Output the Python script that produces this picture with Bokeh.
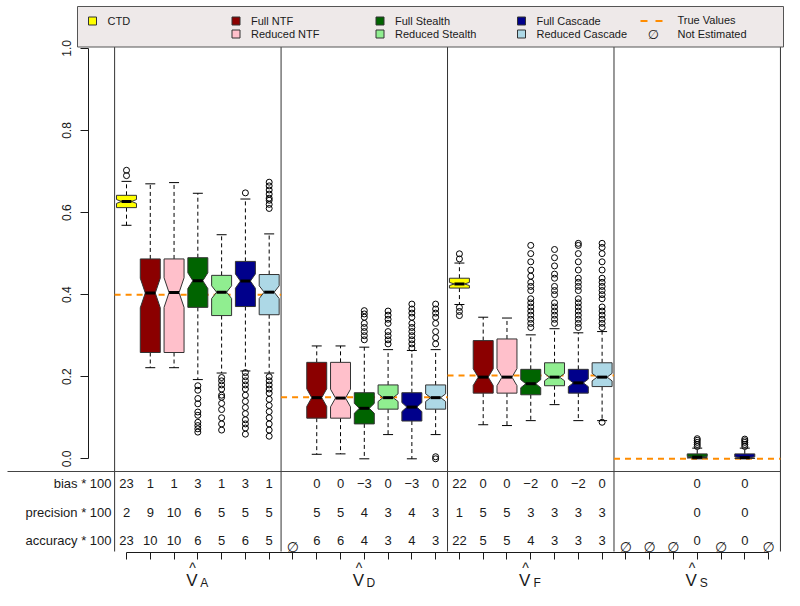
import math
from bokeh.plotting import figure
from bokeh.models import Range1d, FixedTicker, PrintfTickFormatter
from bokeh.core.properties import value
from bokeh.embed import file_html
from bokeh.resources import INLINE

# ---------------- data ----------------
methods = ["CTD", "Full NTF", "Reduced NTF", "Full Stealth", "Reduced Stealth",
           "Full Cascade", "Reduced Cascade"]
method_colors = ["#FFFF00", "#8B0000", "#FFC0CB", "#006400", "#90EE90", "#00008B", "#ADD8E6"]
groups = ["A", "D", "F", "S"]
true_values = [0.40, 0.15, 0.203, 0.0]
y_ticks = [0.0, 0.2, 0.4, 0.6, 0.8, 1.0]
n_sim = 100  # replications (used for the notch width, as boxplot does)

box_pos = [0, 1, 2, 3, 4, 5, 6, 8, 9, 10, 11, 12, 13, 14, 15, 16, 17, 18, 19, 20, 24, 26]
box_lo  = [0.569, 0.222, 0.222, 0.193, 0.209, 0.214, 0.209, 0.011, 0.012, 0.000, 0.059,
           0.000, 0.059, 0.376, 0.083, 0.081, 0.093, 0.132, 0.093, 0.093, 0.000, 0.000]
box_q1  = [0.612, 0.259, 0.259, 0.369, 0.349, 0.371, 0.351, 0.099, 0.099, 0.085, 0.121,
           0.092, 0.121, 0.416, 0.160, 0.160, 0.156, 0.178, 0.160, 0.176, 0.002, 0.001]
box_med = [0.627, 0.404, 0.405, 0.434, 0.406, 0.433, 0.406, 0.149, 0.148, 0.123, 0.149,
           0.126, 0.149, 0.426, 0.199, 0.199, 0.183, 0.199, 0.185, 0.199, 0.004, 0.003]
box_q3  = [0.642, 0.487, 0.487, 0.490, 0.447, 0.481, 0.449, 0.235, 0.235, 0.161, 0.180,
           0.161, 0.180, 0.440, 0.288, 0.292, 0.218, 0.234, 0.218, 0.234, 0.012, 0.012]
box_hi  = [0.676, 0.670, 0.673, 0.647, 0.546, 0.633, 0.548, 0.275, 0.275, 0.272, 0.266,
           0.264, 0.266, 0.477, 0.345, 0.343, 0.302, 0.317, 0.307, 0.310, 0.026, 0.026]

outliers = {
    0: [0.690, 0.703],
    3: [0.178, 0.167, 0.147, 0.134, 0.114, 0.106, 0.089, 0.081, 0.073, 0.065],
    4: [0.198, 0.190, 0.180, 0.170, 0.155, 0.150, 0.135, 0.120, 0.100, 0.085, 0.070],
    5: [0.648, 0.210, 0.200, 0.190, 0.180, 0.170, 0.155, 0.140, 0.125, 0.110, 0.095,
        0.085, 0.075, 0.060],
    6: [0.674, 0.665, 0.655, 0.645, 0.635, 0.630, 0.620, 0.610, 0.200, 0.190, 0.180,
        0.170, 0.160, 0.145, 0.130, 0.115, 0.100, 0.085, 0.070, 0.055],
    10: [0.361, 0.353, 0.345, 0.330, 0.320, 0.310, 0.300, 0.290],
    11: [0.360, 0.350, 0.340, 0.330, 0.310, 0.300, 0.290, 0.280],
    12: [0.377, 0.365, 0.355, 0.345, 0.330, 0.320, 0.310, 0.300, 0.290, 0.280, 0.270],
    13: [0.377, 0.365, 0.355, 0.345, 0.330, 0.310, 0.295, 0.280, 0.005, 0.000],
    14: [0.4995, 0.487, 0.369, 0.359, 0.349],
    17: [0.520, 0.500, 0.480, 0.460, 0.445, 0.430, 0.420, 0.410, 0.390, 0.380, 0.370,
         0.360, 0.350, 0.340, 0.330, 0.320],
    18: [0.510, 0.490, 0.470, 0.450, 0.440, 0.420, 0.410, 0.400, 0.380, 0.370, 0.360,
         0.350, 0.340, 0.330],
    19: [0.525, 0.520, 0.500, 0.480, 0.460, 0.440, 0.430, 0.420, 0.410, 0.390, 0.380,
         0.370, 0.360, 0.350, 0.340, 0.330, 0.320],
    20: [0.525, 0.515, 0.500, 0.480, 0.460, 0.440, 0.430, 0.420, 0.410, 0.400, 0.390,
         0.370, 0.360, 0.350, 0.340, 0.330, 0.320, 0.089],
    24: [0.049, 0.045, 0.040, 0.035, 0.030],
    26: [0.048, 0.044, 0.040, 0.035, 0.030],
}

row_labels = ["bias * 100", "precision * 100", "accuracy * 100"]
NE = "\u2205"
bias_row = ["23", "1", "1", "3", "1", "3", "1",
            "", "0", "0", "\u22123", "0", "\u22123", "0",
            "22", "0", "0", "\u22122", "0", "\u22122", "0",
            "", "", "", "0", "", "0", ""]
prec_row = ["2", "9", "10", "6", "5", "5", "5",
            "", "5", "5", "4", "3", "4", "3",
            "1", "5", "5", "3", "3", "3", "3",
            "", "", "", "0", "", "0", ""]
acc_row = ["23", "10", "10", "6", "5", "6", "5",
           NE, "6", "6", "4", "3", "4", "3",
           "22", "5", "5", "4", "3", "3", "3",
           NE, NE, NE, "0", NE, "0", NE]
table_rows = [bias_row, prec_row, acc_row]

# ---------------- layout helpers (picture pixel -> data) ----------------
PX0, PXS = 126.0, 23.78
PY0, PYS = 458.3, 410.4
W, H = 784, 590


def X(px):
    return (px - PX0) / PXS


def Y(py):
    return (PY0 - py) / PYS


FONT = value("Liberation Sans")
INK = "#1a1a1a"

p = figure(width=W, height=H, output_backend="svg", toolbar_location=None,
           title=None, x_range=Range1d(X(0), X(W)), y_range=Range1d(Y(H), Y(0)),
           min_border=0, min_border_left=0, min_border_right=0,
           min_border_top=0, min_border_bottom=0)
p.outline_line_color = None
p.xgrid.visible = False
p.ygrid.visible = False
p.background_fill_color = "white"
p.border_fill_color = "white"

# y axis
yax = p.yaxis[0]
yax.ticker = FixedTicker(ticks=y_ticks)
yax.formatter = PrintfTickFormatter(format="%.1f")
yax.bounds = (0, 1)
yax.fixed_location = X(88)
yax.major_tick_out = 8
yax.major_tick_in = 0
yax.minor_tick_out = 0
yax.minor_tick_in = 0
yax.major_label_orientation = "vertical"
yax.major_label_text_font = "Liberation Sans"
yax.major_label_text_font_size = "12px"
yax.major_label_text_color = INK
yax.major_label_standoff = 9
yax.axis_line_color = INK
yax.major_tick_line_color = INK

# x axis (ticks only)
xax = p.xaxis[0]
xax.ticker = FixedTicker(ticks=list(range(28)))
xax.bounds = (0, 27)
xax.fixed_location = Y(552)
xax.major_tick_out = 7
xax.major_tick_in = 0
xax.minor_tick_out = 0
xax.minor_tick_in = 0
xax.major_label_overrides = {i: "" for i in range(28)}
xax.major_label_text_font_size = "1px"
xax.axis_line_color = INK
xax.major_tick_line_color = INK

# frame lines
seps = [7 * g - 0.5 for g in range(5)]
p.segment(x0=seps, y0=[Y(551)] * 5, x1=seps, y1=[Y(20)] * 5, line_color="#333333", line_width=1)
p.segment(x0=[X(7)], y0=[Y(471)], x1=[27.5], y1=[Y(471)], line_color="#444444", line_width=1.2)

# true value lines
p.segment(x0=[7 * g - 0.5 for g in range(4)], y0=true_values,
          x1=[7 * g + 6.5 for g in range(4)], y1=true_values,
          line_color="#FF8C00", line_width=2, line_dash="6 5")

# boxes
hw = 0.42
xs, ys, fills = [], [], []
wx, wy0, wy1 = [], [], []
stx0, stx1, sty = [], [], []
mx0, mx1, my = [], [], []
for k, pos in enumerate(box_pos):
    q1, med, q3, lo, hi = box_q1[k], box_med[k], box_q3[k], box_lo[k], box_hi[k]
    nh = 1.58 * (q3 - q1) / math.sqrt(n_sim)
    xs.append([pos - hw, pos - hw, pos - hw / 2, pos - hw, pos - hw,
               pos + hw, pos + hw, pos + hw / 2, pos + hw, pos + hw])
    ys.append([q1, med - nh, med, med + nh, q3, q3, med + nh, med, med - nh, q1])
    fills.append(method_colors[pos % 7])
    wx += [pos, pos]
    wy0 += [q3, q1]
    wy1 += [hi, lo]
    stx0 += [pos - hw / 2, pos - hw / 2]
    stx1 += [pos + hw / 2, pos + hw / 2]
    sty += [hi, lo]
    mx0.append(pos - hw / 2)
    mx1.append(pos + hw / 2)
    my.append(med)

p.segment(x0=wx, y0=wy0, x1=wx, y1=wy1, line_color="black", line_width=1, line_dash="4 3")
p.segment(x0=stx0, y0=sty, x1=stx1, y1=sty, line_color="black", line_width=1)
p.patches(xs=xs, ys=ys, fill_color=fills, line_color="#333333", line_width=1)
p.segment(x0=mx0, y0=my, x1=mx1, y1=my, line_color="black", line_width=3)

ox, oy = [], []
for pos, vals in outliers.items():
    for v in vals:
        ox.append(pos)
        oy.append(v)
p.scatter(x=ox, y=oy, marker="circle", size=6, fill_color=None, line_color="black", line_width=1)

# table
row_y = [Y(483.3), Y(511.7), Y(540.0)]
p.text(x=[X(111)] * 3, y=row_y, text=row_labels, text_align="right", text_baseline="middle",
       text_font=FONT, text_font_size="13px", text_color=INK)
for r, row in enumerate(table_rows):
    tx = [i for i, t in enumerate(row) if t and t != NE]
    tt = [row[i] for i in tx]
    p.text(x=tx, y=[row_y[r]] * len(tx), text=tt, text_align="center", text_baseline="middle",
           text_font=FONT, text_font_size="13px", text_color=INK)
    nx = [i for i, t in enumerate(row) if t == NE]
    if nx:
        p.text(x=nx, y=[Y(546)] * len(nx), text=[NE] * len(nx), text_align="center",
               text_baseline="middle", text_font=value("DejaVu Sans"), text_font_size="14px",
               text_color=INK)

# group labels  V-hat with subscript
gc = [7 * g + 3 for g in range(4)]
p.text(x=[c - 6.0 / PXS for c in gc], y=[Y(580)] * 4, text=["V"] * 4, text_align="center",
       text_baseline="alphabetic", text_font=FONT, text_font_size="17px", text_color=INK)
p.text(x=[c - 5.3 / PXS for c in gc], y=[Y(567)] * 4, text=["^"] * 4, text_align="center",
       text_baseline="alphabetic", text_font=FONT, text_font_size="14px", text_color=INK)
p.text(x=[c + 6.5 / PXS for c in gc], y=[Y(582)] * 4, text=groups, text_align="center",
       text_baseline="alphabetic", text_font=FONT, text_font_size="12px", text_color=INK)

# legend (drawn on top)
p.quad(left=[X(77)], right=[X(783)], top=[Y(6)], bottom=[Y(46.5)], fill_color="#EEE9E9",
       line_color="#555555", line_width=1, level="overlay")
leg_col_x = [92, 235.5, 379.5, 521]
leg_row_y = [20.5, 33.5]
leg_items = [(0, 0, 0), (1, 1, 0), (2, 1, 1), (3, 2, 0), (4, 2, 1), (5, 3, 0), (6, 3, 1)]
sl, sr, st, sb, sc, lx, ly, lt = [], [], [], [], [], [], [], []
for m, c, r in leg_items:
    cx, cy = leg_col_x[c], leg_row_y[r]
    sl.append(X(cx - 4))
    sr.append(X(cx + 4))
    st.append(Y(cy - 4))
    sb.append(Y(cy + 4))
    sc.append(method_colors[m])
    lx.append(X(cx + 15))
    ly.append(Y(cy))
    lt.append(methods[m])
p.quad(left=sl, right=sr, top=st, bottom=sb, fill_color=sc, line_color="#333333",
       line_width=1, level="overlay")
lx += [X(677), X(677)]
ly += [Y(19.5), Y(33)]
lt += ["True Values", "Not Estimated"]
p.text(x=lx, y=ly, text=lt, text_align="left", text_baseline="middle", text_font=FONT,
       text_font_size="11px", text_color=INK, level="overlay")
p.segment(x0=[X(640)], y0=[Y(20.5)], x1=[X(662)], y1=[Y(20.5)], line_color="#FF8C00",
          line_width=2, line_dash="7 8", level="overlay")
p.text(x=[X(653)], y=[Y(33.5)], text=[NE], text_align="center", text_baseline="middle",
       text_font=value("DejaVu Sans"), text_font_size="13px", text_color=INK, level="overlay")

open("out.html", "w").write(file_html(p, INLINE))
